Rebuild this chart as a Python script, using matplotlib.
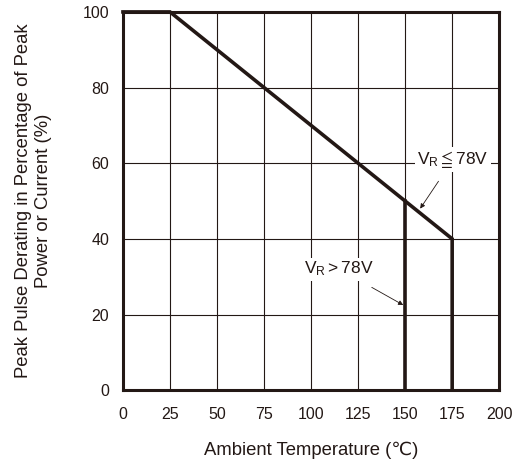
import matplotlib
matplotlib.use("Agg")
import matplotlib.pyplot as plt

plt.rcParams['font.family'] = ['Liberation Sans', 'DejaVu Sans']
plt.rcParams['mathtext.fontset'] = 'custom'
plt.rcParams['mathtext.rm'] = 'Liberation Sans'
plt.rcParams['mathtext.it'] = 'Liberation Sans'
plt.rcParams['mathtext.fallback'] = 'stixsans'

# data
temp_low = [0, 25, 175, 175]
derate_low = [100, 100, 40, 0]
temp_high = [150, 150]
derate_high = [50, 0]
xticks = [0, 25, 50, 75, 100, 125, 150, 175, 200]
yticks = [0, 20, 40, 60, 80, 100]

c = '#231815'
fig = plt.figure(figsize=(5.2, 4.59), dpi=100)
ax = fig.add_axes([0.2365, 0.150, 0.7235, 0.824])
ax.set_xlim(0, 200)
ax.set_ylim(0, 100)
ax.set_xticks(xticks)
ax.set_yticks(yticks)
ax.grid(True, color=c, linewidth=0.8)
ax.set_axisbelow(True)
for s in ax.spines.values():
    s.set_linewidth(2.2)
    s.set_color(c)
ax.tick_params(axis='x', length=0, labelsize=11.5, colors=c, pad=12)
ax.tick_params(axis='y', length=0, labelsize=11.5, colors=c, pad=10)

ax.plot(temp_low, derate_low, color=c, linewidth=2.6, solid_joinstyle='miter', clip_on=False)
ax.plot(temp_high, derate_high, color=c, linewidth=2.6, clip_on=False)

bbox = dict(facecolor='white', edgecolor='none', pad=1.5)
ax.annotate('$\\mathregular{V_R\\leqq 78V}$', xy=(158, 48), xytext=(175.5, 61),
            ha='center', va='center', fontsize=12.5, color=c, bbox=bbox,
            arrowprops=dict(arrowstyle='-|>', color=c, lw=0.6, mutation_scale=7,
                            shrinkA=8, shrinkB=0))
ax.annotate('$\\mathregular{V_R > 78V}$', xy=(149, 22.5), xytext=(115, 32),
            ha='center', va='center', fontsize=12.5, color=c, bbox=bbox,
            arrowprops=dict(arrowstyle='-|>', color=c, lw=0.6, mutation_scale=7,
                            shrinkA=10, shrinkB=0))

ax.set_xlabel('Ambient Temperature (℃)', fontsize=13.3, color=c, labelpad=14)
ax.set_ylabel('Peak Pulse Derating in Percentage of Peak\nPower or Current (%)',
              fontsize=13.3, color=c, labelpad=22)

fig.savefig('out.png', dpi=100)
